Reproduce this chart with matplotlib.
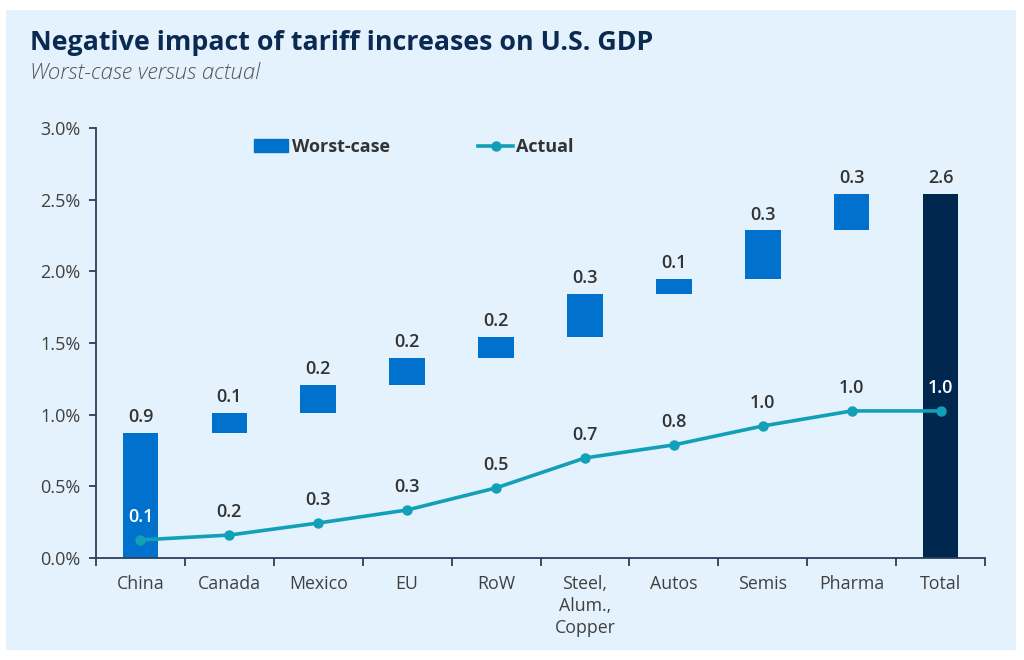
import matplotlib
matplotlib.use("Agg")
import matplotlib.pyplot as plt
from matplotlib.patches import Rectangle
from matplotlib.lines import Line2D
from matplotlib.ticker import FuncFormatter, FixedLocator

# ---------------- data ----------------
categories = ["China", "Canada", "Mexico", "EU", "RoW", "Steel,\nAlum.,\nCopper",
              "Autos", "Semis", "Pharma", "Total"]
worst_increments = [0.87, 0.14, 0.195, 0.19, 0.145, 0.30, 0.11, 0.335, 0.255]
worst_labels = ["0.9", "0.1", "0.2", "0.2", "0.2", "0.3", "0.1", "0.3", "0.3", "2.6"]
actual_values = [0.126, 0.16, 0.244, 0.335, 0.489, 0.698, 0.789, 0.921, 1.026, 1.026]
actual_labels = ["0.1", "0.2", "0.3", "0.3", "0.5", "0.7", "0.8", "1.0", "1.0", "1.0"]
y_ticks = [0.0, 0.5, 1.0, 1.5, 2.0, 2.5, 3.0]

title = "Negative impact of tariff increases on U.S. GDP"
subtitle = "Worst-case versus actual"

# ---------------- style ----------------
FONT = ["Open Sans", "DejaVu Sans"]
plt.rcParams["font.family"] = FONT
BG = "#e3f2fc"
BLUE = "#0072ce"
NAVY = "#00284f"
TEAL = "#129fb8"
TXT = "#333333"
AXC = "#2c3e5c"

fig = plt.figure(figsize=(10.24, 6.6), dpi=100)
fig.patch.set_facecolor("white")
fig.patches.append(Rectangle((6 / 1024, 1 - 650 / 660), (1016 - 6) / 1024, (650 - 10) / 660,
                             transform=fig.transFigure, facecolor=BG, edgecolor="none", zorder=-10))

ax = fig.add_axes([96 / 1024, 1 - 558 / 660, (985 - 96) / 1024, (558 - 128) / 660])
ax.set_facecolor("none")
ax.set_zorder(5)

x = list(range(len(categories)))
bottoms = []
cum = 0.0
for inc in worst_increments:
    bottoms.append(cum)
    cum += inc
total = cum
heights = worst_increments + [total]
bottoms = bottoms + [0.0]
colors = [BLUE] * len(worst_increments) + [NAVY]

ax.bar(x, heights, bottom=bottoms, width=0.4, color=colors, zorder=2)

for i, (b, h, lab) in enumerate(zip(bottoms, heights, worst_labels)):
    ax.annotate(lab, (x[i], b + h), xytext=(0, 5), textcoords="offset points",
                ha="center", va="bottom", fontsize=13, fontweight="semibold", color=TXT)

ax.plot(x, actual_values, color=TEAL, lw=2.6, marker="o", ms=6.5, zorder=3,
        solid_capstyle="round")
for i, (v, lab) in enumerate(zip(actual_values, actual_labels)):
    inside = i in (0, len(x) - 1)
    ax.annotate(lab, (x[i], v), xytext=(0, 10), textcoords="offset points",
                ha="center", va="bottom", fontsize=13, fontweight="semibold",
                color="white" if inside else TXT, zorder=4)

ax.set_xlim(-0.5, len(x) - 0.5)
ax.set_ylim(0, 3.0)
ax.set_yticks(y_ticks)
ax.yaxis.set_major_formatter(FuncFormatter(lambda v, p: f"{v:.1f}%"))
ax.xaxis.set_major_locator(FixedLocator([i - 0.5 for i in range(len(x) + 1)]))
ax.set_xticklabels([])
ax.xaxis.set_minor_locator(FixedLocator(x))
ax.set_xticklabels(categories, minor=True)
ax.tick_params(axis="x", which="major", length=6, width=1.3, color=AXC, direction="out")
ax.tick_params(axis="x", which="minor", length=0, pad=12, labelsize=12.8, labelcolor="#404040")
ax.tick_params(axis="y", length=5, width=1.3, color=AXC, labelsize=13, labelcolor="#404040", pad=6)
for lab in ax.get_xticklabels(minor=True):
    lab.set_linespacing(1.3)
    lab.set_verticalalignment("top")

for s in ["top", "right"]:
    ax.spines[s].set_visible(False)
for s in ["left", "bottom"]:
    ax.spines[s].set_color(AXC)
    ax.spines[s].set_linewidth(1.3)

# legend
handles = [Rectangle((0, 0), 1, 1, color=BLUE),
           Line2D([0], [0], color=TEAL, lw=2.6, marker="o", ms=6.5)]
leg = ax.legend(handles, ["Worst-case", "Actual"], loc="center left",
                bbox_to_anchor=((254 - 96) / 889, (558 - 147) / 430), ncol=2, frameon=False,
                prop={"family": FONT, "weight": "bold", "size": 13},
                handlelength=1.9, handletextpad=0.2, columnspacing=4.9,
                borderpad=0, borderaxespad=0)
for t in leg.get_texts():
    t.set_color(TXT)

fig.text(30 / 1024, 1 - 43 / 660, title, fontsize=19.3, fontweight="bold",
         color="#0b2a52", va="center", ha="left")
fig.text(30 / 1024, 1 - 73 / 660, subtitle, fontsize=16, style="italic",
         color="#555555", va="center", ha="left", fontweight="light")

fig.savefig("out.png", dpi=100, facecolor="white")
